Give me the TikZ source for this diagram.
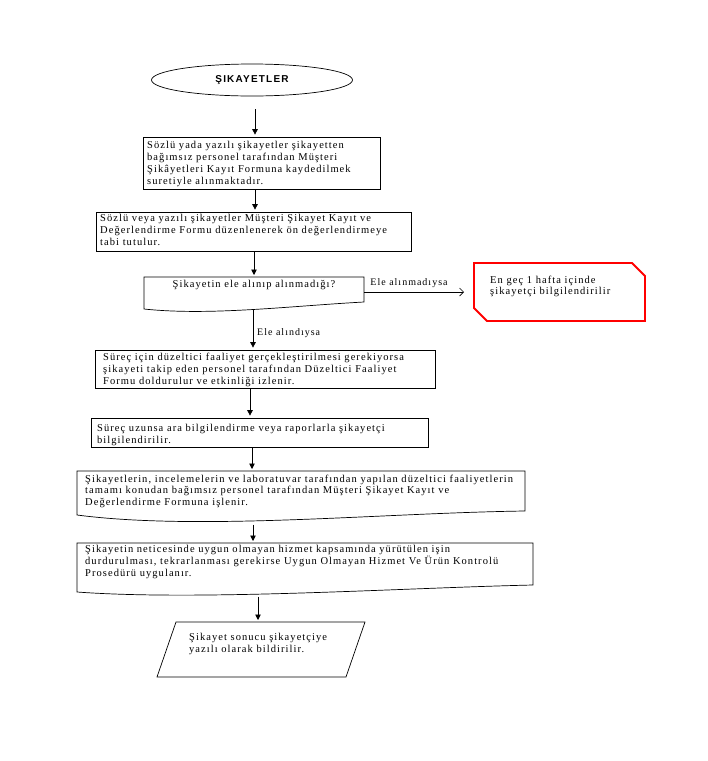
\documentclass[tikz,border=0pt]{standalone}
\usepackage{fontspec}
\setmainfont{Liberation Serif}[LetterSpace=10]
\newfontfamily\titlefont{Liberation Sans}[LetterSpace=12]
\usetikzlibrary{arrows.meta,shapes.geometric,calc}
\begin{document}
\begin{tikzpicture}[x=1pt,y=-1pt,
  txt/.style={font=\fontsize{10.5}{11.8}\selectfont, inner sep=0pt, align=left},
  lbl/.style={font=\fontsize{10}{12}\selectfont, inner sep=0pt},
  box/.style={draw, line width=0.7pt, inner sep=0pt},
  edge/.style={draw, line width=0.7pt},
  arr/.style={draw, line width=0.7pt, -{Triangle[length=5.5pt,width=5.5pt]}, shorten >=2pt},
  openarr/.style={draw, line width=0.7pt, -{Straight Barb[length=4pt,width=8pt]}}]
\useasboundingbox (0,0) rectangle (708,761);

% title
\node[draw, ellipse, line width=0.7pt, minimum width=201pt, minimum height=32pt, inner sep=0pt,
      font=\titlefont\bfseries\fontsize{10}{12}\selectfont] (title) at (252,80) {ŞIKAYETLER};

% box 1
\node[box, minimum width=237pt, minimum height=52pt] (b1) at (261.5,163) {};
\node[txt, anchor=north west] (b1t) at (147,141.5)
 {Sözlü yada yazılı şikayetler şikayetten\\bağımsız personel tarafından Müşteri\\Şikâyetleri Kayıt Formuna kaydedilmek\\suretiyle alınmaktadır.};

% box 2
\node[box, minimum width=315pt, minimum height=39pt] (b2) at (253.5,231.5) {};
\node[txt, anchor=north west] (b2t) at (100,214)
 {Sözlü veya yazılı şikayetler Müşteri Şikayet Kayıt ve\\Değerlendirme Formu düzenlenerek ön değerlendirmeye\\tabi tutulur.};

% decision (document shape)
\coordinate (decT) at (254,277);
\coordinate (decR) at (364,292);
\coordinate (decB) at (253,310);
\draw[edge] (144,277) -- (364,277) -- (364,302) .. controls (290,306) and (210,316) .. (144,309) -- cycle;
\node[txt] (dec) at (254,285) {Şikayetin ele alınıp alınmadığı?};

% red box
\coordinate (redIn) at (464,292);
\draw[draw=red, line width=1.8pt, line join=miter] (474,263) -- (632,263) -- (645,276) -- (645,321) -- (487,321) -- (474,308) -- cycle;
\node[txt, anchor=north west] (red) at (490,275.5) {En geç 1 hafta içinde\\şikayetçi bilgilendirilir};

% box 4
\node[box, minimum width=340pt, minimum height=38pt] (b4) at (265,369) {};
\node[txt, anchor=north west] (b4t) at (103,353)
 {Süreç için düzeltici faaliyet gerçekleştirilmesi gerekiyorsa\\şikayeti takip eden personel tarafından Düzeltici Faaliyet\\Formu doldurulur ve etkinliği izlenir.};

% box 5
\node[box, minimum width=337pt, minimum height=29pt] (b5) at (259.5,432.5) {};
\node[txt, anchor=north west] (b5t) at (97,424)
 {Süreç uzunsa ara bilgilendirme veya raporlarla şikayetçi\\bilgilendirilir.};

% box 6 (document shape)
\coordinate (b6T) at (252,471);
\coordinate (b6B) at (253,524.5);
\draw[edge] (77,471) -- (525,471) -- (525,511) .. controls (380,513) and (200,531) .. (77,515) -- cycle;
\node[txt, anchor=north west] (b6) at (85,474.5)
 {Şikayetlerin, incelemelerin ve laboratuvar tarafından yapılan düzeltici faaliyetlerin\\tamamı konudan bağımsız personel tarafından Müşteri Şikayet Kayıt ve\\Değerlendirme Formuna işlenir.};

% box 7 (document shape)
\coordinate (b7T) at (253,543);
\coordinate (b7B) at (258,596.5);
\draw[edge] (77,543) -- (533,543) -- (533,585) .. controls (400,588) and (200,601) .. (77,592) -- cycle;
\node[txt, anchor=north west] (b7) at (85,545.5)
 {Şikayetin neticesinde uygun olmayan hizmet kapsamında yürütülen işin\\durdurulması, tekrarlanması gerekirse Uygun Olmayan Hizmet Ve Ürün Kontrolü\\Prosedürü uygulanır.};

% parallelogram
\coordinate (parT) at (258,622);
\draw[edge] (176,622) -- (365,622) -- (346,677) -- (157,677) -- cycle;
\node[txt, anchor=north west] (par) at (189,633.5) {Şikayet sonucu şikayetçiye\\yazılı olarak bildirilir.};

% connectors
\draw[arr, shorten <=13pt] ([xshift=3pt]title.south) -- ([xshift=-6.5pt]b1.north);
\draw[arr] ([xshift=-6.5pt]b1.south) -- ([xshift=1.5pt]b2.north);
\draw[arr] ([xshift=0.5pt]b2.south) -- (decT);
\draw[openarr] (decR) -- (redIn);
\node[lbl] (lno) at (409,283) {Ele alınmadıysa};
\draw[arr] (decB) -- ([xshift=-12pt]b4.north);
\node[lbl, anchor=west] (lyes) at (257,333) {Ele alındıysa};
\draw[arr] ([xshift=-15pt]b4.south) -- ([xshift=-9.5pt]b5.north);
\draw[arr] ([xshift=-7.5pt]b5.south) -- (b6T);
\draw[arr] (b6B) -- (b7T);
\draw[arr] (b7B) -- (parT);
\end{tikzpicture}
\end{document}
